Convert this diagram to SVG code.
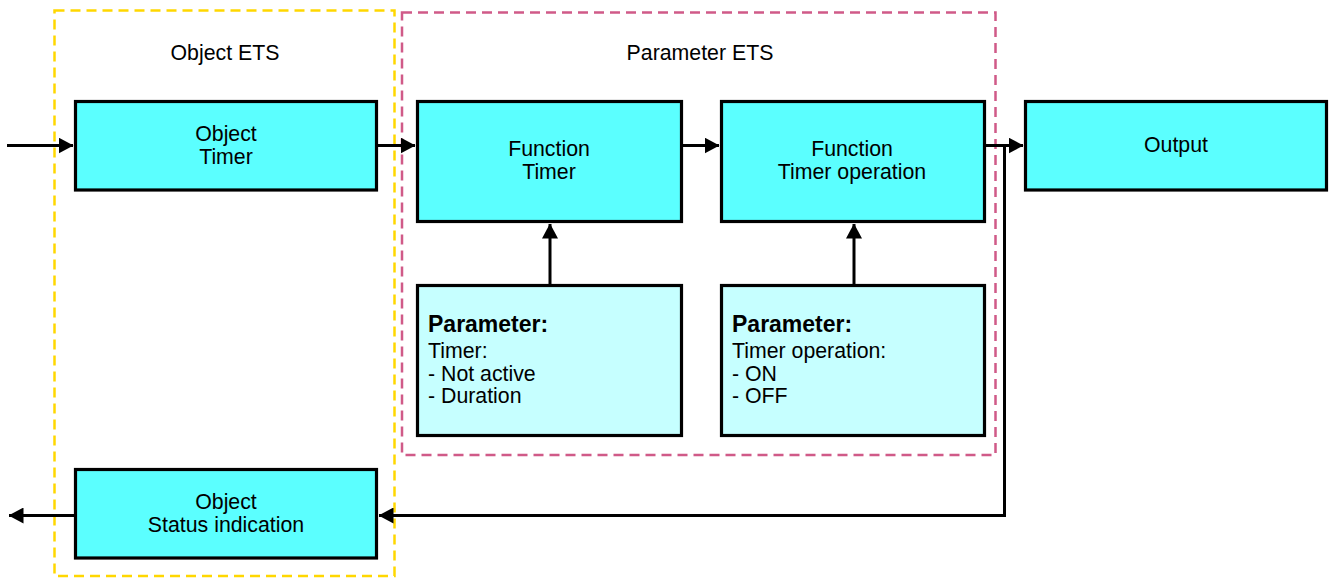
<svg xmlns="http://www.w3.org/2000/svg" width="1329" height="578" viewBox="0 0 1329 578">
<style>
text{font-family:"Liberation Sans",Arial,sans-serif;font-size:21.3px;fill:#000}
.c{text-anchor:middle}
.b{font-weight:bold;font-size:23px}
.box{fill:#5BFFFF;stroke:#000;stroke-width:3.2}
.pbox{fill:#C6FFFF;stroke:#000;stroke-width:3.2}
.conn{fill:none;stroke:#000;stroke-width:3}
.yel{fill:none;stroke:#FFD700;stroke-width:2.5;stroke-dasharray:10 6}
.pink{fill:none;stroke:#D05A88;stroke-width:2.5;stroke-dasharray:10 6}
</style>
<defs>
<marker id="ah" markerUnits="userSpaceOnUse" markerWidth="15" markerHeight="16" viewBox="0 0 15 16" refX="14.5" refY="8" orient="auto">
<path d="M0,0 L15,8 L0,16 Z" fill="#000"/>
</marker>
</defs>
<rect fill="#fff" width="1329" height="578"/>
<g id="group-object-ets">
<rect class="yel" x="54.5" y="10.5" width="340" height="565.5"/>
<text class="c" x="225" y="60">Object ETS</text>
</g>
<g id="group-parameter-ets">
<rect class="pink" x="402" y="12.5" width="593.5" height="442.5"/>
<text class="c" x="700" y="59.5">Parameter ETS</text>
</g>
<g id="connectors">
<line class="conn" x1="7" y1="145.5" x2="73" y2="145.5" marker-end="url(#ah)"/>
<line class="conn" x1="378" y1="145.5" x2="415" y2="145.5" marker-end="url(#ah)"/>
<line class="conn" x1="682" y1="145.5" x2="719" y2="145.5" marker-end="url(#ah)"/>
<line class="conn" x1="985" y1="145.5" x2="1023" y2="145.5" marker-end="url(#ah)"/>
<path class="conn" d="M985,145.5 H1004.5 V515.5 H379" marker-end="url(#ah)"/>
<line class="conn" x1="74" y1="515.5" x2="9" y2="515.5" marker-end="url(#ah)"/>
<line class="conn" x1="550" y1="285" x2="550" y2="224" marker-end="url(#ah)"/>
<line class="conn" x1="854" y1="285" x2="854" y2="224" marker-end="url(#ah)"/>
</g>
<g id="node-object-timer">
<rect class="box" x="75.5" y="101.5" width="301" height="88.5"/>
<text class="c" x="226" y="141">Object</text>
<text class="c" x="226" y="163.5">Timer</text>
</g>
<g id="node-function-timer">
<rect class="box" x="417.5" y="101.5" width="264" height="120"/>
<text class="c" x="549" y="156">Function</text>
<text class="c" x="549" y="178.5">Timer</text>
</g>
<g id="node-function-timer-operation">
<rect class="box" x="721.5" y="101.5" width="263" height="120"/>
<text class="c" x="852" y="156">Function</text>
<text class="c" x="852" y="178.5">Timer operation</text>
</g>
<g id="node-output">
<rect class="box" x="1025.5" y="101.5" width="301" height="88.5"/>
<text class="c" x="1176" y="152">Output</text>
</g>
<g id="node-param-timer">
<rect class="pbox" x="417.5" y="285.5" width="264" height="150"/>
<text class="b" x="428" y="332">Parameter:</text>
<text x="428" y="358">Timer:</text>
<text x="428" y="381">- Not active</text>
<text x="428" y="403">- Duration</text>
</g>
<g id="node-param-timer-operation">
<rect class="pbox" x="721.5" y="285.5" width="263" height="150"/>
<text class="b" x="732" y="332">Parameter:</text>
<text x="732" y="358">Timer operation:</text>
<text x="732" y="381">- ON</text>
<text x="732" y="403">- OFF</text>
</g>
<g id="node-object-status">
<rect class="box" x="75.5" y="469.5" width="301" height="88.5"/>
<text class="c" x="226" y="509">Object</text>
<text class="c" x="226" y="531.5">Status indication</text>
</g>
</svg>
